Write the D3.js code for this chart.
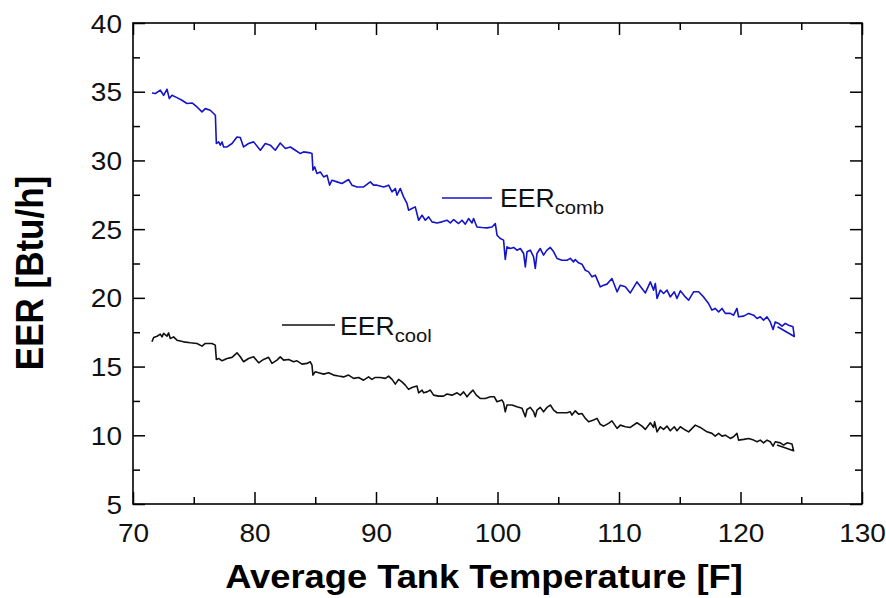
<!DOCTYPE html>
<html>
<head>
<meta charset="utf-8">
<script src="https://cdn.jsdelivr.net/npm/d3@7"></script>
<style>
  html, body { margin: 0; padding: 0; background: #fff; }
  svg { display: block; font-family: "Liberation Sans", Arial, sans-serif; }
</style>
</head>
<body>
<svg id="chart" width="886" height="598"></svg>
<script>
// Combined EER vs. average tank temperature
const combTemp = [71.56,71.84,72.25,72.52,72.80,72.99,73.21,73.62,74.03,74.44,74.86,75.27,75.68,75.95,76.36,76.78,
  76.86,77.05,77.19,77.33,77.46,77.74,78.15,78.56,78.83,79.10,79.51,79.93,80.48,80.89,81.30,81.71,82.12,82.54,82.95,
  83.36,83.77,84.04,84.59,84.73,84.81,84.95,85.14,85.42,85.69,85.97,86.18,86.38,86.79,87.20,87.74,88.02,88.44,88.98,
  89.53,89.80,90.08,90.63,91.04,91.32,91.59,91.73,92.00,92.27,92.55,92.68,92.96,93.23,93.51,93.79,94.06,94.33,94.61,
  95.02,95.43,95.84,96.12,96.39,96.80,97.08,97.35,97.62,97.90,98.03,98.31,98.72,99.14,99.55,99.82,99.96,100.23,100.50,
  100.64,100.78,101.05,101.33,101.60,101.88,102.15,102.29,102.43,102.70,102.97,103.11,103.25,103.52,103.79,104.07,
  104.35,104.62,104.90,105.31,105.72,105.99,106.26,106.40,106.67,106.95,107.23,107.50,107.78,108.05,108.46,108.73,
  109.01,109.42,109.84,110.11,110.52,110.93,111.48,111.89,112.17,112.58,112.85,112.99,113.13,113.40,113.67,113.95,
  114.22,114.55,114.77,115.05,115.46,115.73,116.14,116.55,116.96,117.37,117.65,117.92,118.20,118.48,118.75,119.16,
  119.43,119.71,119.84,120.26,120.67,121.08,121.36,121.63,121.90,122.18,122.45,122.68,122.86,123.14,123.42,123.69,
  123.96,124.32,124.43,123.05];
const combEER = [34.91,34.87,35.11,34.74,35.18,34.50,34.74,34.57,34.38,34.14,34.18,33.89,33.53,33.77,33.65,33.29,
  31.23,31.35,31.11,31.35,30.98,30.98,31.23,31.71,31.67,30.98,31.23,31.35,30.74,31.23,31.11,30.74,31.27,30.87,30.98,
  30.74,30.50,30.62,30.55,30.50,29.29,29.53,29.05,29.16,28.80,28.92,28.20,28.56,28.44,28.32,28.61,28.20,28.07,28.07,
  28.44,28.20,28.20,28.07,28.20,27.71,27.96,27.47,27.96,27.35,26.87,26.38,26.50,26.62,25.65,26.01,25.65,25.89,25.53,
  25.45,25.53,25.65,25.45,25.70,25.41,25.65,25.36,25.77,25.45,25.77,25.16,25.12,25.09,25.16,25.41,24.56,24.32,24.20,
  22.79,23.71,23.59,23.67,23.47,23.59,23.23,22.25,23.35,23.47,22.98,22.14,23.23,23.59,23.11,23.47,
  23.67,23.35,22.87,22.74,22.74,22.87,22.62,22.79,22.55,22.45,22.01,21.89,21.53,21.65,20.80,20.92,
  21.00,21.41,20.44,20.92,20.80,20.36,21.16,20.68,20.36,21.16,20.56,21.05,19.96,20.56,20.32,20.56,
  20.07,20.44,19.96,20.51,20.07,19.83,20.44,20.44,20.07,19.59,19.11,19.23,18.98,19.23,18.87,18.87,
  18.74,19.23,18.62,18.67,18.87,18.74,18.50,18.62,18.38,18.62,18.25,17.70,18.25,18.14,17.94,18.14,
  18.01,17.89,17.19,17.90];

// Cooling-only EER vs. average tank temperature
const coolTemp = [71.56,71.70,71.98,72.25,72.39,72.52,72.80,72.93,73.07,73.34,73.62,74.16,74.72,75.27,75.68,75.95,
  76.50,76.77,76.86,77.05,77.33,77.74,78.15,78.56,78.83,79.10,79.51,79.93,80.34,80.75,81.16,81.44,81.85,82.12,82.40,
  82.81,83.22,83.50,83.91,84.32,84.59,84.73,84.81,85.00,85.28,85.69,86.10,86.51,86.92,87.33,87.74,88.16,88.57,88.98,
  89.39,89.67,89.94,90.35,90.77,91.04,91.32,91.59,91.86,92.14,92.41,92.68,92.96,93.37,93.51,93.79,93.92,94.20,94.47,
  94.74,95.15,95.56,95.84,96.26,96.67,96.94,97.21,97.49,97.76,97.98,98.26,98.58,99.00,99.41,99.74,99.96,100.37,100.50,
  100.64,100.78,101.19,101.60,102.02,102.29,102.43,102.70,102.97,103.11,103.25,103.52,103.79,104.07,104.35,104.62,
  104.90,105.31,105.72,105.99,106.13,106.40,106.67,106.95,107.23,107.50,107.91,108.19,108.46,108.73,109.14,109.42,
  109.84,110.11,110.52,110.93,111.48,111.89,112.17,112.58,112.85,112.93,113.13,113.40,113.67,113.95,114.22,114.55,
  114.77,115.05,115.46,115.73,116.28,116.69,117.24,117.65,117.92,118.20,118.48,118.75,119.16,119.43,119.71,119.84,
  120.26,120.67,121.08,121.36,121.63,121.90,122.18,122.45,122.68,122.86,123.28,123.55,123.83,124.24,124.37,123.00];
const coolEER = [16.80,17.12,17.21,17.36,17.16,17.41,17.21,17.45,17.05,17.16,16.92,16.80,16.73,16.68,16.49,16.68,
  16.68,16.56,15.52,15.59,15.42,15.59,15.67,16.00,15.71,15.35,15.59,15.71,15.27,15.52,15.67,15.23,15.47,15.71,15.47,
  15.52,15.35,15.42,15.18,15.23,15.35,15.11,14.38,14.62,14.55,14.45,14.55,14.38,14.31,14.25,14.38,14.14,14.21,14.01,
  14.25,14.07,14.21,14.21,14.14,14.31,14.07,13.72,14.07,13.89,13.65,13.34,13.48,13.58,13.09,13.29,13.09,13.16,13.29,
  12.92,12.85,12.85,13.00,12.92,13.09,12.92,13.16,12.80,13.09,13.29,12.92,12.68,12.68,12.80,12.80,12.44,12.56,12.36,
  11.71,12.20,12.20,12.07,11.96,11.35,11.88,12.03,11.71,11.35,11.83,12.03,11.71,12.03,12.20,11.83,
  11.64,11.64,11.64,11.71,11.47,11.78,11.54,11.59,11.23,10.98,11.11,11.23,10.80,10.67,10.87,11.05,
  10.50,10.74,10.62,10.57,10.91,10.67,10.43,10.91,10.57,10.98,10.25,10.62,10.43,10.67,10.33,10.62,
  10.33,10.62,10.38,10.25,10.74,10.57,10.25,10.14,9.94,10.14,9.94,10.01,9.77,9.89,10.14,9.65,
  9.70,9.77,9.65,9.53,9.65,9.45,9.65,9.53,9.21,9.53,9.45,9.29,9.45,9.36,8.87,9.30];

// Axis ticks
const xMajorTicks = [70, 80, 90, 100, 110, 120, 130];
const xMinorTicks = [75, 85, 95, 105, 115, 125];
const yMajorTicks = [5, 10, 15, 20, 25, 30, 35, 40];
const yMinorTicks = [7.5, 12.5, 17.5, 22.5, 27.5, 32.5, 37.5];

const xTitle = "Average Tank Temperature [F]";
const yTitle = "EER [Btu/h]";
const seriesNames = [{ main: "EER", sub: "comb" }, { main: "EER", sub: "cool" }];
const seriesColors = ["#1414c8", "#111111"];

// Layout
const W = 886, H = 598;
const margin = { left: 133, top: 23, right: 24, bottom: 94 };
const innerW = W - margin.left - margin.right;
const innerH = H - margin.top - margin.bottom;
const STRETCH = 1.12;   // horizontal stretch applied to all labels

const svg = d3.select("#chart");
const g = svg.append("g").attr("transform", `translate(${margin.left},${margin.top})`);

const x = d3.scaleLinear().domain([70, 130]).range([0, innerW]);
const y = d3.scaleLinear().domain([5, 40]).range([innerH, 0]);

function styleAxis(sel, showLabels) {
  sel.select(".domain").remove();
  sel.selectAll(".tick line").attr("stroke", "#000").attr("stroke-width", 1.5);
  if (!showLabels) sel.selectAll(".tick text").remove();
}

// Bottom axis (labels) + minor ticks
const bottom = g.append("g").attr("transform", `translate(0,${innerH})`)
  .call(d3.axisBottom(x).tickValues(xMajorTicks).tickSize(-12).tickFormat(d3.format("d")));
styleAxis(bottom, true);
bottom.selectAll(".tick text")
  .attr("y", 38).attr("dy", null)
  .attr("font-size", 25).attr("fill", "#111")
  .attr("font-family", "Liberation Sans, Arial, sans-serif")
  .attr("transform", `scale(${STRETCH},1)`);
styleAxis(g.append("g").attr("transform", `translate(0,${innerH})`)
  .call(d3.axisBottom(x).tickValues(xMinorTicks).tickSize(-7)), false);

// Top axis (ticks only)
styleAxis(g.append("g").call(d3.axisTop(x).tickValues(xMajorTicks).tickSize(-12)), false);
styleAxis(g.append("g").call(d3.axisTop(x).tickValues(xMinorTicks).tickSize(-7)), false);

// Left axis (labels) + minor ticks
const left = g.append("g")
  .call(d3.axisLeft(y).tickValues(yMajorTicks).tickSize(-12).tickFormat(d3.format("d")));
styleAxis(left, true);
left.selectAll(".tick text")
  .attr("x", -11 / STRETCH).attr("dy", "0.36em")
  .attr("font-size", 25).attr("fill", "#111")
  .attr("font-family", "Liberation Sans, Arial, sans-serif")
  .attr("transform", `scale(${STRETCH},1)`);
styleAxis(g.append("g").call(d3.axisLeft(y).tickValues(yMinorTicks).tickSize(-7)), false);

// Right axis (ticks only)
styleAxis(g.append("g").attr("transform", `translate(${innerW},0)`)
  .call(d3.axisRight(y).tickValues(yMajorTicks).tickSize(-12)), false);
styleAxis(g.append("g").attr("transform", `translate(${innerW},0)`)
  .call(d3.axisRight(y).tickValues(yMinorTicks).tickSize(-7)), false);

// Frame
g.append("rect").attr("x", 0).attr("y", 0).attr("width", innerW).attr("height", innerH)
  .attr("fill", "none").attr("stroke", "#000").attr("stroke-width", 1.6);

// Series lines
const line = d3.line().x(d => x(d[0])).y(d => y(d[1]));
const combData = d3.zip(combTemp, combEER);
const coolData = d3.zip(coolTemp, coolEER);
[combData, coolData].forEach((data, i) => {
  g.append("path").datum(data)
    .attr("d", line)
    .attr("fill", "none")
    .attr("stroke", seriesColors[i])
    .attr("stroke-width", 1.6)
    .attr("stroke-linejoin", "round");
});

// Legend entries placed next to each curve
const legendPos = [
  { x1: 442, x2: 492, ly: 198, tx: 500, ty: 207 },
  { x1: 282, x2: 335, ly: 325, tx: 340, ty: 335 }
];
seriesNames.forEach((s, i) => {
  const p = legendPos[i];
  svg.append("line").attr("x1", p.x1).attr("x2", p.x2).attr("y1", p.ly).attr("y2", p.ly)
    .attr("stroke", seriesColors[i]).attr("stroke-width", 1.4);
  const t = svg.append("g").attr("transform", `translate(${p.tx},${p.ty}) scale(${STRETCH * 0.95},1)`)
    .append("text").attr("font-size", 25).attr("fill", "#111");
  t.append("tspan").text(s.main);
  t.append("tspan").attr("font-size", 19).attr("dy", 6.5).text(s.sub);
});

// Axis titles
svg.append("g").attr("transform", `translate(484,588) scale(1.1,1)`)
  .append("text").attr("text-anchor", "middle")
  .attr("font-size", 33).attr("font-weight", "bold").attr("fill", "#000")
  .text(xTitle);

svg.append("g").attr("transform", `translate(43,273) scale(1.12,1) rotate(-90)`)
  .append("text").attr("text-anchor", "middle")
  .attr("font-size", 35).attr("font-weight", "bold").attr("fill", "#000")
  .text(yTitle);
</script>
</body>
</html>
